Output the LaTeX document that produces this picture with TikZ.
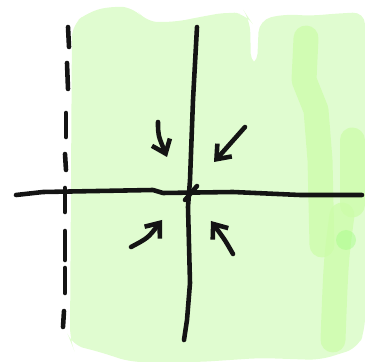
\documentclass[tikz,border=0pt]{standalone}
\usetikzlibrary{arrows.meta}
\definecolor{fieldgreen}{RGB}{224,252,208}
\definecolor{streakgreen}{RGB}{204,252,168}
\definecolor{inkblack}{RGB}{20,20,20}
\tikzset{
  ink/.style={draw=inkblack, line width=2.6pt, line cap=round, line join=round},
  pointer/.style={ink, -{Straight Barb[length=7pt,width=11pt,line width=2.6pt]}},
  streak/.style={draw=streakgreen, line width=0.5cm, line cap=round, line join=round, opacity=0.7}
}
\begin{document}
\begin{tikzpicture}[x=0.02cm, y=-0.02cm]
\useasboundingbox (0,0) rectangle (365,364);

% Shaded half plane
\fill[fieldgreen, rounded corners=7pt]
  (70,340) -- (72,25) -- (88,12) -- (112,6) -- (135,8) -- (146,22) -- (175,22)
  -- (205,16) -- (228,12) -- (246,14) -- (250,20) -- (251,66) -- (257,66) -- (259,20)
  -- (285,14) -- (310,16) -- (330,14) -- (365,12) -- (365,330) -- (358,348)
  -- (320,360) -- (260,358) -- (200,362) -- (130,362) -- (100,352) -- (72,345) -- cycle;

% Darker brush strokes on the right
\draw[streak] (306,38) -- (304,80) -- (316,110) -- (320,160) -- (322,245);
\draw[streak] (352,140) -- (352,205);
\draw[streak] (342,215) .. controls (336,260) .. (333,340);
\fill[streakgreen!80!green, opacity=0.45] (346,240) circle (10);

% Dashed boundary
\foreach \ya/\xa/\yb/\xb in {27/68/47/69, 63/67/89/68, 113/66/137/66, 154/65/170/66,
                             188/65/212/65, 231/65/260/65, 268/65/293/65, 311/64/327/63}
  \draw[ink] (\xa,\ya) -- (\xb,\yb);

% Axes
\draw[ink] (16,195) -- (43,192) -- (153,190) -- (163,193) -- (233,192) -- (300,195) -- (362,195);
\draw[ink] (197,27) -- (193,100) -- (190,180) -- (188,207) -- (190,283) -- (187,320) -- (184,340);
\coordinate (o) at (190,193);
\draw[ink] (185,200) -- (197,186);

% Arrows pointing at the origin
\draw[pointer] (158,122) .. controls (158,135) .. (167,157);
\draw[pointer] (245,127) -- (214,162);
\draw[pointer] (131,247) .. controls (148,238) .. (162,220);
\draw[pointer] (233,254) .. controls (225,240) .. (211,221);
\end{tikzpicture}
\end{document}
